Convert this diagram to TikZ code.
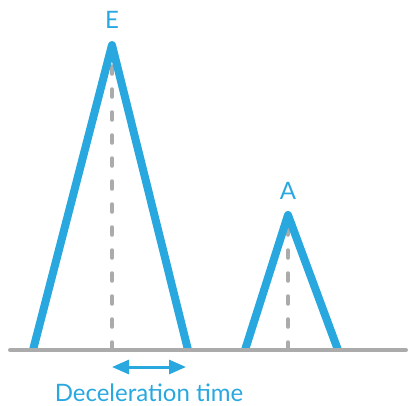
\documentclass[tikz,border=0pt]{standalone}
\usepackage{fontspec}
\setmainfont{Lato}
\usetikzlibrary{arrows.meta}
\definecolor{peakblue}{HTML}{29A8E0}
\definecolor{axisgray}{HTML}{ABABAB}
\tikzset{
  wave/.style={peakblue, line width=8pt, line join=round},
  guide/.style={axisgray, line width=3.5pt, line cap=round, dash pattern=on 8pt off 15pt},
  peaklabel/.style={peakblue, font=\fontsize{24}{28}\selectfont, inner sep=0pt, anchor=base}
}
\begin{document}
\begin{tikzpicture}[x=1pt, y=-1pt]
        \useasboundingbox (0,0) rectangle (409,405);
        % E wave
        \coordinate (e1) at (33,350);
        \coordinate (etop) at (112,45);
        \coordinate (e2) at (188,350);
        \coordinate (ebase) at (112,350);
        % A wave
        \coordinate (a1) at (245,350);
        \coordinate (atop) at (288,215);
        \coordinate (a2) at (338,350);
        \coordinate (abase) at (288,350);
        \draw[guide] (ebase) -- (etop);
        \draw[guide] (abase) -- (atop);
        \draw[wave] (e1) -- (etop) -- (e2);
        \draw[wave] (a1) -- (atop) -- (a2);
        \draw[axisgray, line width=4pt, line cap=round] (10,350) coordinate (x0) -- (406,350) coordinate (x1);
        \node[peaklabel] (elabel) at (112,28) {E};
        \node[peaklabel] (alabel) at (288,199) {A};
        % deceleration time
        \coordinate (d1) at (112,367);
        \coordinate (d2) at (186,367);
        \draw[peakblue, line width=3pt, {Triangle[length=17pt,width=14pt]}-{Triangle[length=17pt,width=14pt]}] (d1) -- (d2);
        \node[peaklabel] (dtext) at (149,401) {Deceleration time};
      \end{tikzpicture}
\end{document}
